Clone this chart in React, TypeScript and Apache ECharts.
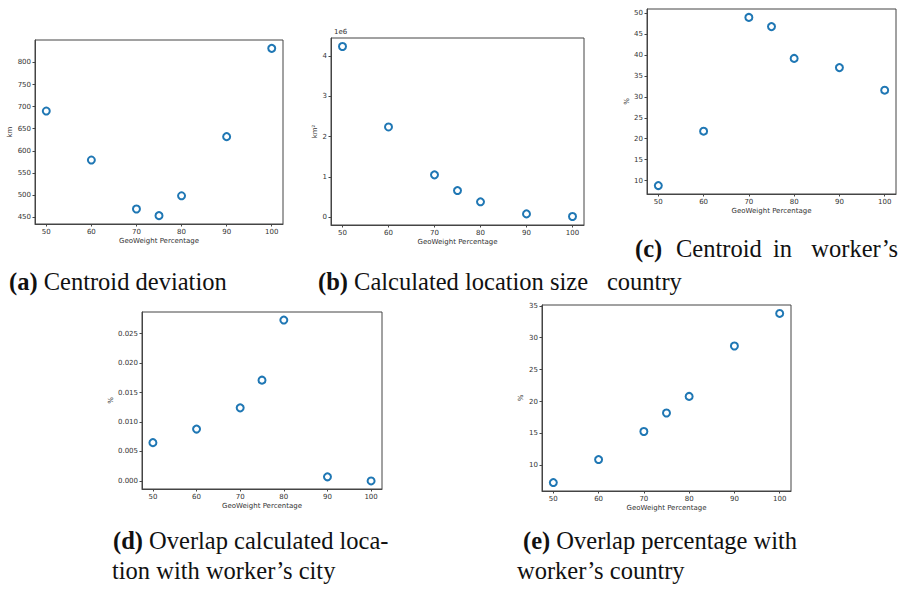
import React, { useEffect, useRef } from "react";
import * as echarts from "echarts";

// ---- data ----
const geoWeight = [50, 60, 70, 75, 80, 90, 100];
const xTicks = [50, 60, 70, 80, 90, 100];

const centroidDeviationKm = [690, 579, 468, 453, 498, 632, 832];
const centroidTicks = [450, 500, 550, 600, 650, 700, 750, 800];

const locationSizeKm2e6 = [4.24, 2.24, 1.05, 0.66, 0.38, 0.08, 0.015];
const sizeTicks = [0, 1, 2, 3, 4];

const centroidInCountryPct = [8.8, 21.8, 49.0, 46.8, 39.2, 37.0, 31.6];
const countryCentroidTicks = [10, 15, 20, 25, 30, 35, 40, 45, 50];

const overlapCityPct = [0.0065, 0.0088, 0.0124, 0.0171, 0.0273, 0.0007, 0.0];
const cityTicks = [0, 0.005, 0.01, 0.015, 0.02, 0.025];

const overlapCountryPct = [7.3, 10.9, 15.3, 18.2, 20.8, 28.7, 33.8];
const countryTicks = [10, 15, 20, 25, 30, 35];

const xLabel = "GeoWeight Percentage";

// ---- layout ----
const panels = [
  { grid: { left: 35, top: 40, width: 248, height: 184 }, values: centroidDeviationKm, ticks: centroidTicks, name: "km", gap: 21, dec: 0 },
  { grid: { left: 331, top: 38, width: 253, height: 187 }, values: locationSizeKm2e6, ticks: sizeTicks, name: "km²", gap: 10, dec: 0 },
  { grid: { left: 647, top: 9, width: 249, height: 185 }, values: centroidInCountryPct, ticks: countryCentroidTicks, name: "%", gap: 16, dec: 0 },
  { grid: { left: 142, top: 312, width: 240, height: 177 }, values: overlapCityPct, ticks: cityTicks, name: "%", gap: 28, dec: 3 },
  { grid: { left: 542, top: 305, width: 249, height: 186 }, values: overlapCountryPct, ticks: countryTicks, name: "%", gap: 18, dec: 0 },
];

const pad = (arr: number[]) => {
  const lo = Math.min(...arr);
  const hi = Math.max(...arr);
  const m = (hi - lo) * 0.05;
  return [lo - m, hi + m];
};

const AXIS = "#444";
const TXT = "#333";
const SANS = "DejaVu Sans";
const SERIF = "Liberation Serif";
const CAP = 24.5;

function caption(x: number, y: number, bold: string, rest: string) {
  return {
    type: "text",
    x,
    y,
    style: {
      text: bold ? `{b|${bold}} ${rest}` : rest,
      fontFamily: SERIF,
      fontSize: CAP,
      fill: "#111",
      verticalAlign: "middle",
      align: "left",
      rich: {
        b: { fontFamily: SERIF, fontSize: CAP, fontWeight: "bold", fill: "#111" },
      },
    },
  };
}

function plain(x: number, y: number, text: string, align = "left") {
  return {
    type: "text",
    x,
    y,
    style: { text, fontFamily: SERIF, fontSize: CAP, fill: "#111", verticalAlign: "middle", align },
  };
}

export default function App() {
  const ref = useRef<HTMLDivElement>(null);
  useEffect(() => {
    if (!ref.current) return;
    const chart = echarts.init(ref.current, undefined, { renderer: "svg" });
    const [xmin, xmax] = pad(geoWeight);
    const option: any = {
      animation: false,
      backgroundColor: "#fff",
      grid: panels.map((p) => ({ ...p.grid, show: true, borderColor: AXIS, borderWidth: 1, containLabel: false })),
      xAxis: panels.map((p, i) => ({
        type: "value",
        gridIndex: i,
        min: xmin,
        max: xmax,
        name: xLabel,
        nameLocation: "middle",
        nameGap: 13,
        nameTextStyle: { fontFamily: SANS, fontSize: 7, color: TXT },
        axisLine: { show: true, onZero: false, lineStyle: { color: AXIS, width: 1 } },
        axisTick: { show: true, length: 2.5, lineStyle: { color: AXIS }, customValues: xTicks },
        axisLabel: { fontFamily: SANS, fontSize: 7, color: TXT, margin: 4, customValues: xTicks },
        splitLine: { show: false },
      })),
      yAxis: panels.map((p, i) => {
        const [ymin, ymax] = pad(p.values);
        return {
          type: "value",
          gridIndex: i,
          min: ymin,
          max: ymax,
          name: p.name,
          nameLocation: "middle",
          nameGap: p.gap,
          nameTextStyle: { fontFamily: SANS, fontSize: 7, color: TXT },
          axisLine: { show: true, onZero: false, lineStyle: { color: AXIS, width: 1 } },
          axisTick: { show: true, length: 2.5, lineStyle: { color: AXIS }, customValues: p.ticks },
          axisLabel: {
            fontFamily: SANS,
            fontSize: 7,
            color: TXT,
            margin: 4,
            customValues: p.ticks,
            formatter: (v: number) => v.toFixed(p.dec),
          },
          splitLine: { show: false },
        };
      }),
      series: panels.map((p, i) => ({
        type: "scatter",
        xAxisIndex: i,
        yAxisIndex: i,
        data: geoWeight.map((g, k) => [g, p.values[k]]),
        symbol: "circle",
        symbolSize: 7,
        itemStyle: { color: "#fff", borderColor: "#1f77b4", borderWidth: 2, opacity: 1 },
      })),
      graphic: [
        {
          type: "text",
          x: 334,
          y: 32,
          style: { text: "1e6", fontFamily: SANS, fontSize: 7, fill: TXT, verticalAlign: "middle", align: "left" },
        },
        caption(9, 281, "(a)", "Centroid deviation"),
        caption(318, 281, "(b)", "Calculated location size"),
        caption(635, 248, "(c)", ""),
        plain(676, 248, "Centroid"),
        plain(773, 248, "in"),
        plain(898, 248, "worker’s", "right"),
        plain(607, 281, "country"),
        caption(113, 540, "(d)", "Overlap calculated loca-"),
        plain(112, 570, "tion with worker’s city"),
        caption(523, 540, "(e)", "Overlap percentage with"),
        plain(517, 570, "worker’s country"),
      ],
    };
    chart.setOption(option);
    return () => chart.dispose();
  }, []);
  return (
    <div
      ref={ref}
      style={{ position: "fixed", left: 0, top: 0, width: 903, height: 592, background: "#fff" }}
    />
  );
}
